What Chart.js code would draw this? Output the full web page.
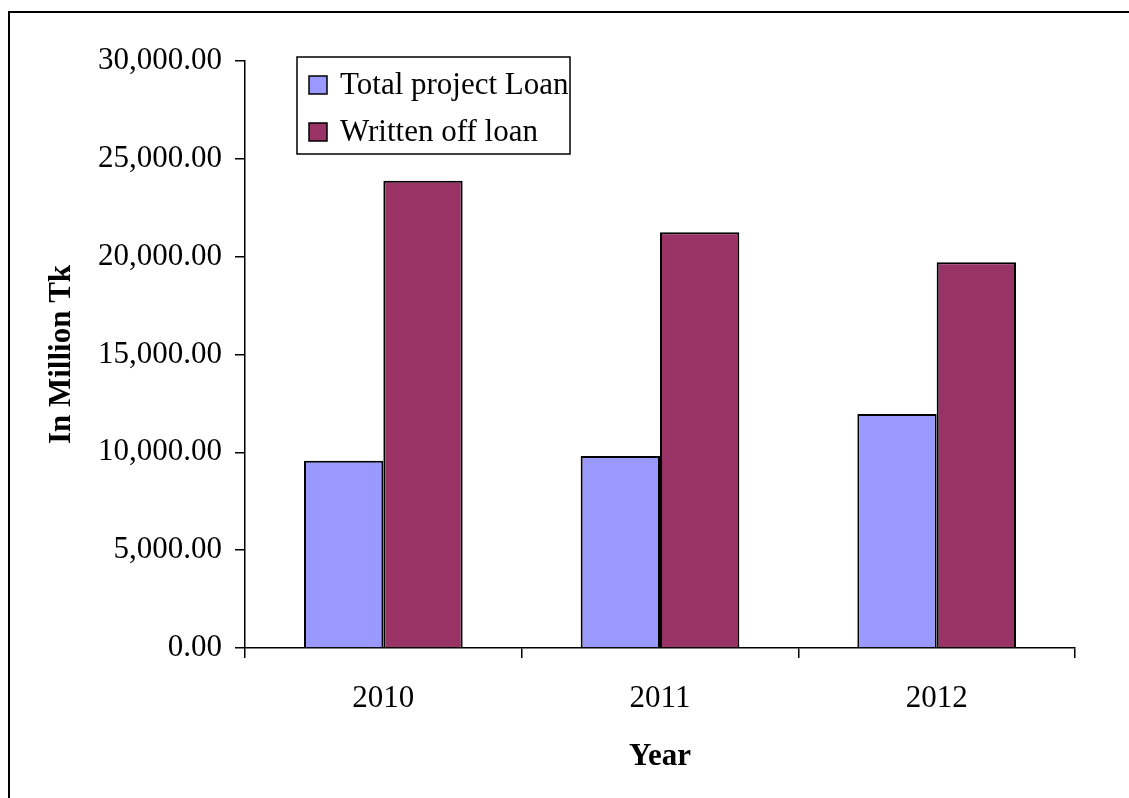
<!DOCTYPE html>
<html>
<head>
<meta charset="utf-8">
<script src="https://cdn.jsdelivr.net/npm/chart.js@4.4.1/dist/chart.umd.min.js"></script>
<style>
html,body{margin:0;padding:0;background:#fff;overflow:hidden;}
canvas{display:block;}
</style>
</head>
<body>
<canvas id="c" width="1129" height="798"></canvas>
<script>
const years = ['2010', '2011', '2012'];
const totalProjectLoan = [9570, 9810, 11960];
const writtenOffLoan = [23880, 21250, 19710];
const seriesNames = ['Total project Loan', 'Written off loan'];
const yTickMax = 30000;
const yTickStep = 5000;

const FONT = '"Liberation Serif", "Times New Roman", serif';
Chart.defaults.font.family = FONT;
Chart.defaults.color = '#000';

const framePlugin = {
  id: 'frame',
  beforeDraw(chart) {
    const ctx = chart.ctx;
    ctx.save();
    ctx.fillStyle = '#fff';
    ctx.fillRect(0, 0, chart.width, chart.height);
    ctx.strokeStyle = '#000';
    ctx.lineWidth = 2;
    ctx.strokeRect(9, 12, 1300, 1000);
    ctx.restore();
  }
};

const legendBoxPlugin = {
  id: 'legendBox',
  afterDraw(chart) {
    const ctx = chart.ctx;
    const a = chart.chartArea;
    const x0 = a.left + 52, y0 = a.top - 4, w = 273, h = 97;
    ctx.save();
    ctx.fillStyle = '#fff';
    ctx.fillRect(x0, y0, w, h);
    ctx.strokeStyle = '#000';
    ctx.lineWidth = 1.5;
    ctx.strokeRect(x0, y0, w, h);
    ctx.font = '31px ' + FONT;
    ctx.textBaseline = 'middle';
    ctx.textAlign = 'left';
    chart.data.datasets.forEach((ds, i) => {
      const cy = y0 + 28 + i * 47;
      ctx.fillStyle = ds.backgroundColor;
      ctx.fillRect(x0 + 12, cy - 9, 18, 18);
      ctx.lineWidth = 1.5;
      ctx.strokeStyle = '#000';
      ctx.strokeRect(x0 + 12, cy - 9, 18, 18);
      ctx.fillStyle = '#000';
      ctx.fillText(ds.label, x0 + 43, cy + 1);
    });
    ctx.restore();
  }
};

new Chart(document.getElementById('c'), {
  type: 'bar',
  data: {
    labels: years,
    datasets: [
      { label: seriesNames[0], data: totalProjectLoan, backgroundColor: '#9999FF', borderColor: '#000', borderWidth: 2 },
      { label: seriesNames[1], data: writtenOffLoan, backgroundColor: '#993366', borderColor: '#000', borderWidth: 2 }
    ]
  },
  options: {
    responsive: false,
    animation: false,
    layout: { padding: { left: 0, top: 61, right: 54, bottom: 0 } },
    datasets: { bar: { categoryPercentage: 0.5735, barPercentage: 1.0 } },
    plugins: { legend: { display: false }, tooltip: { enabled: false } },
    scales: {
      x: {
        grid: { drawOnChartArea: false, drawTicks: true, tickLength: 10, color: '#000', lineWidth: 1.5, offset: true },
        border: { color: '#000', width: 1.5 },
        ticks: { font: { size: 31 }, color: '#000', padding: 22 },
        title: { display: true, text: 'Year', font: { size: 31, weight: 'bold' }, color: '#000', padding: { top: 0, bottom: 22 } },
        afterFit(scale) { scale.height = 150; }
      },
      y: {
        min: 0,
        max: yTickMax,
        grid: { drawOnChartArea: false, drawTicks: true, tickLength: 10, color: '#000', lineWidth: 1.5 },
        border: { color: '#000', width: 1.5 },
        ticks: {
          stepSize: yTickStep,
          font: { size: 31 },
          color: '#000',
          padding: 13,
          callback: v => Number(v).toLocaleString('en-US', { minimumFractionDigits: 2, maximumFractionDigits: 2 })
        },
        title: { display: true, text: 'In Million Tk', font: { size: 31, weight: 'bold' }, color: '#000', padding: { top: 43, bottom: 0 } },
        afterFit(scale) { scale.width = 245; }
      }
    }
  },
  plugins: [framePlugin, legendBoxPlugin]
});
</script>
</body>
</html>
